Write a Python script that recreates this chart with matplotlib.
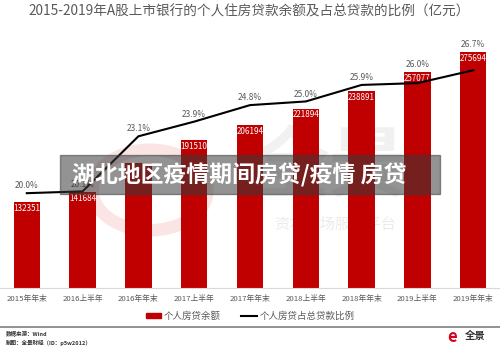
import matplotlib.pyplot as plt
import matplotlib.patches as mpatches
from matplotlib.lines import Line2D
import numpy as np

plt.rcParams['font.family'] = ['Noto Sans CJK SC', 'DejaVu Sans']

# data
periods = ['2015年年末', '2016上半年', '2016年年末', '2017上半年', '2017年年末',
           '2018上半年', '2018年年末', '2019上半年', '2019年年末']
# 2016年年末 label is hidden under the banner
balance = [132351, 141684, 170000, 191510, 206194, 221894, 238891, 257077, 275694]
show_label = [True, True, False, True, True, True, True, True, True]
ratio = [20.0, 20.1, 23.1, 23.9, 24.8, 25.0, 25.9, 26.0, 26.7]

title = '2015-2019年A股上市银行的个人住房贷款余额及占总贷款的比例（亿元）'
banner = '湖北地区疫情期间房贷/疫情 房贷'

red = '#C00000'
grey_txt = '#595959'

bar_lim = (50000, 300000)
ratio_lim = (14.83, 29.06)

fig = plt.figure(figsize=(5, 3.5), dpi=100)
ax = fig.add_axes([0.0, 0.177, 1.0, 0.746])
ax2 = ax.twinx()
ax.patch.set_alpha(0)
ax2.patch.set_alpha(0)

x = np.arange(len(periods))

# faint watermark behind everything
ring = mpatches.Circle((150 / 500, 1 - 190 / 350), 0.115, transform=fig.transFigure,
                       fill=False, lw=9, ec='#fae4e4', zorder=-2)
fig.patches.append(ring)
fig.text(0.66, 1 - 168 / 350, '全景', fontsize=56, color='#f1f1f1', ha='center',
         va='center', weight='bold', zorder=-2)
fig.text(0.67, 1 - 224 / 350, '资本市场服务平台', fontsize=11, color='#ebebeb',
         ha='center', va='center', zorder=-2)

ax.bar(x, balance, width=0.47, color=red, zorder=2)
for xi, v, show in zip(x, balance, show_label):
    if show:
        ax.text(xi, v - 6200, str(v), color='white', fontsize=5.8, ha='center',
                va='center', zorder=3)

ax2.plot(x, ratio, color='black', lw=1.5, zorder=4)
# percent labels sit just above the line, or above the bar when the bar is taller
span_b = bar_lim[1] - bar_lim[0]
span_r = ratio_lim[1] - ratio_lim[0]
for xi, r, v in zip(x, ratio, balance):
    bar_top = ratio_lim[0] + (v - bar_lim[0]) / span_b * span_r
    ax2.text(xi, max(r, bar_top) + 0.4, f'{r:.1f}%', color=grey_txt, fontsize=6,
             ha='center', va='center')

ax.set_xlim(-0.48, 8.48)
ax.set_ylim(*bar_lim)
ax2.set_ylim(*ratio_lim)

for a in (ax, ax2):
    for s in ('top', 'left', 'right'):
        a.spines[s].set_visible(False)
    a.set_yticks([])
ax.spines['bottom'].set_color('#d9d9d9')
ax2.spines['bottom'].set_visible(False)
ax.set_xticks(x)
ax.set_xticklabels(periods, fontsize=5.6, color=grey_txt)
ax.tick_params(axis='x', length=0, pad=5)

fig.text(0.056, 0.966, title, fontsize=9.8, color=grey_txt, ha='left', va='center')

handles = [mpatches.Patch(color=red), Line2D([0], [0], color='black', lw=1.5)]
fig.legend(handles, ['个人房贷余额', '个人房贷占总贷款比例'], loc='center',
           bbox_to_anchor=(0.5, 1 - 316 / 350), ncol=2, frameon=False, fontsize=6.8,
           handlelength=1.6, handleheight=0.5, columnspacing=2.2, handletextpad=0.3,
           labelcolor=grey_txt)

# footer
fig.add_artist(Line2D([0, 1], [1 - 327 / 350] * 2, color='#7f7f7f', lw=1.2,
                      transform=fig.transFigure))
fig.text(0.012, 1 - 334 / 350, '数据来源：Wind', fontsize=4, weight='bold',
         color='#333333', va='center')
fig.text(0.012, 1 - 343 / 350, '制图：全景财经（ID：p5w2012）', fontsize=4, weight='bold',
         color='#333333', va='center')
fig.text(0.905, 1 - 337 / 350, 'e', fontsize=12, weight='bold', color='#d9001b',
         ha='center', va='center')
fig.text(0.95, 1 - 336 / 350, '全景', fontsize=7.5, weight='bold', color='#333333',
         ha='center', va='center')

# grey banner laid over the chart
fig.patches.append(mpatches.Rectangle((60 / 500, 1 - 194 / 350), 380 / 500, 39 / 350,
                                      transform=fig.transFigure, color='#3a3a3a',
                                      alpha=0.55, zorder=10))
fig.text(239 / 500, 1 - 175 / 350, banner, fontsize=16.5, weight='bold', color='white',
         ha='center', va='center', zorder=11)

fig.savefig('out.png', dpi=100)
